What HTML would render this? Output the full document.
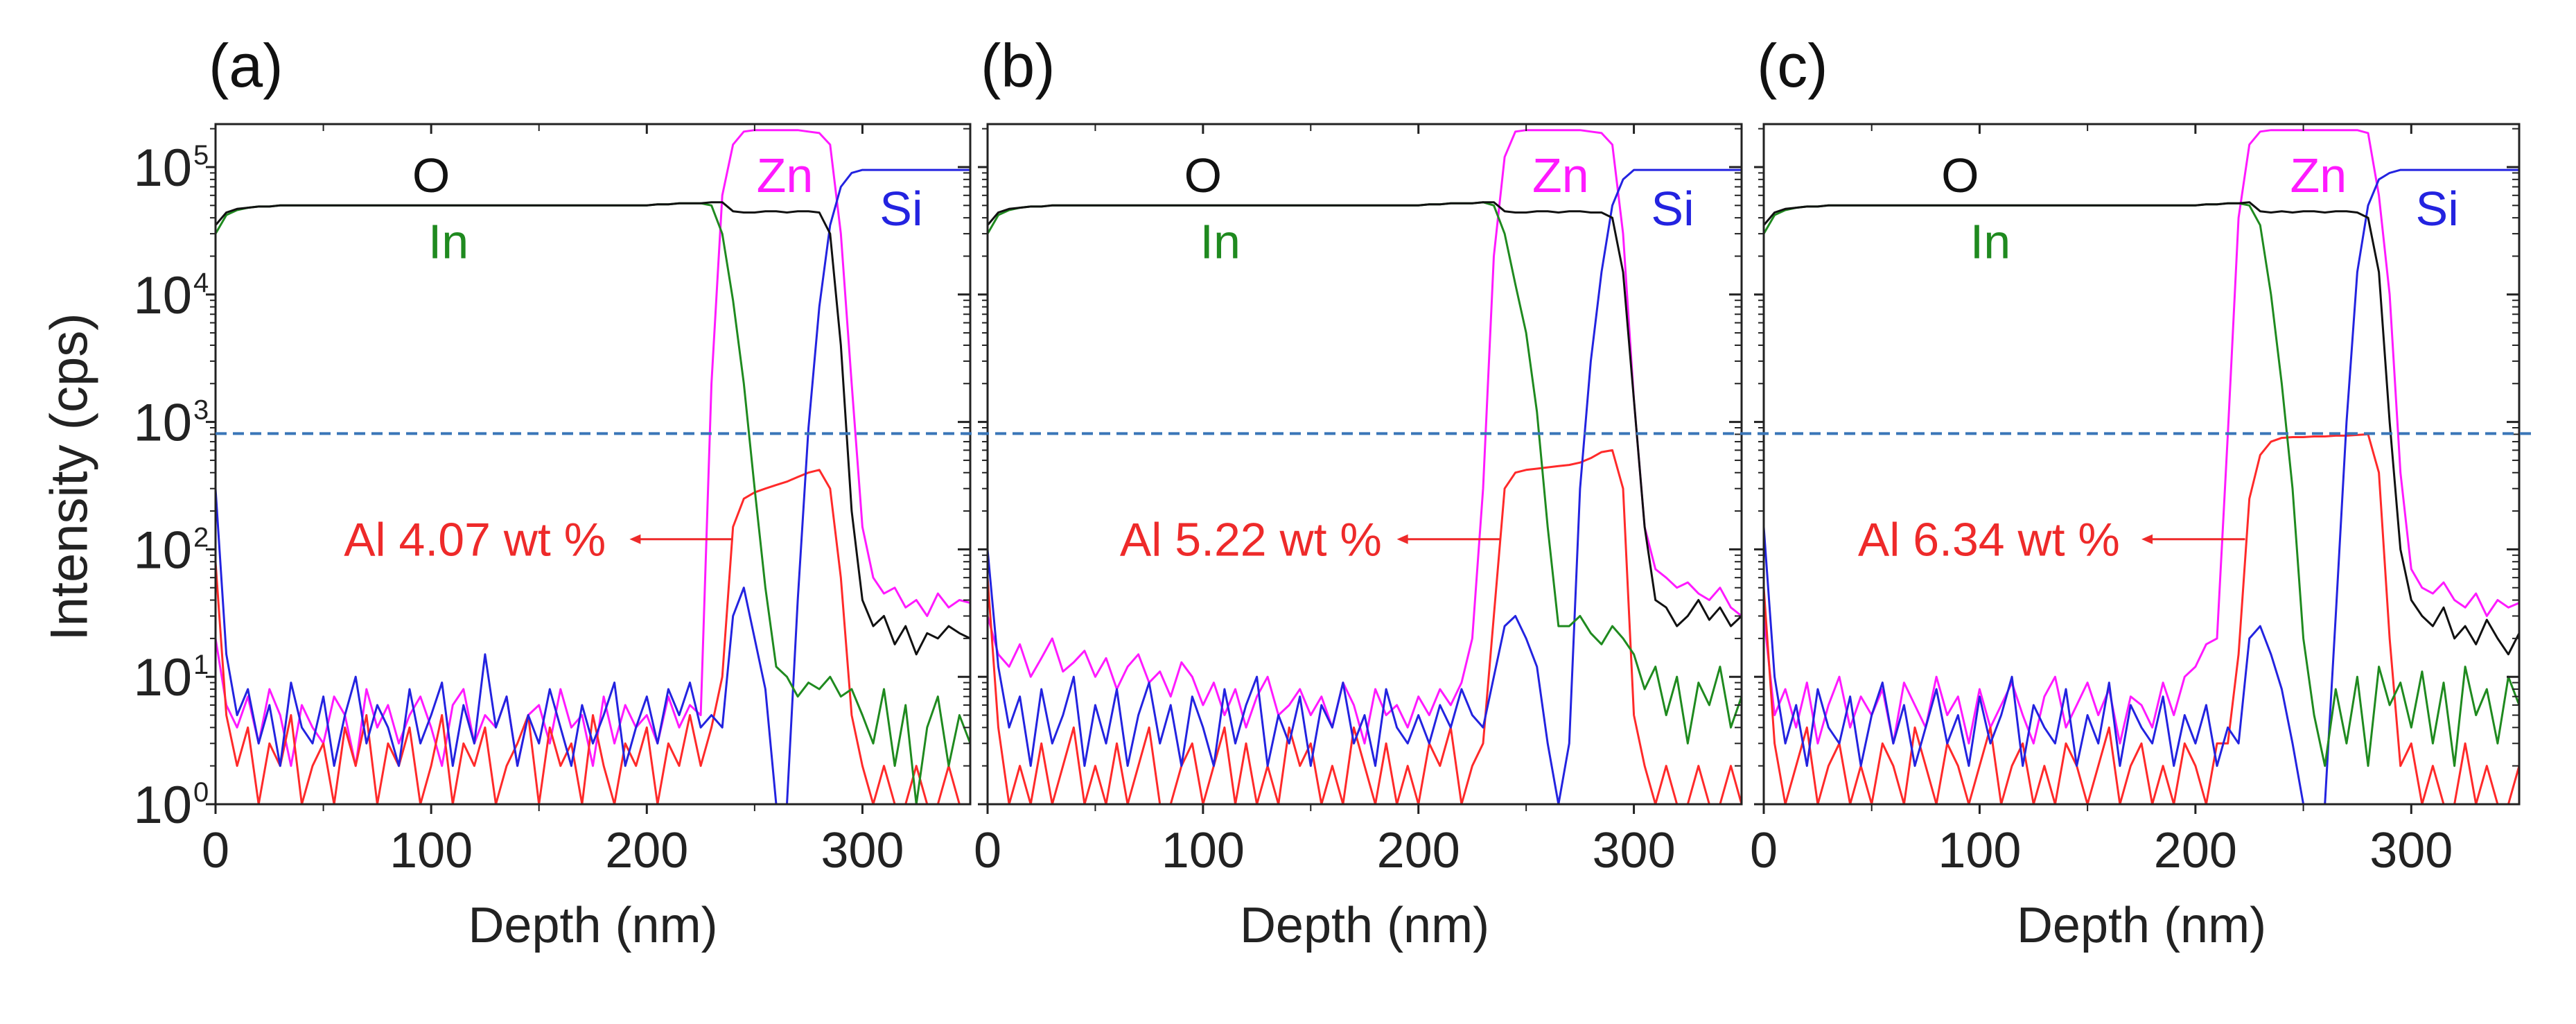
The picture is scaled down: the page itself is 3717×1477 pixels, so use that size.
<!DOCTYPE html>
<html><head><meta charset="utf-8"><style>
html,body{margin:0;padding:0;background:#fff}
svg{display:block}
text{font-family:"Liberation Sans",Arial,sans-serif}
</style></head><body>
<svg id="fig" xmlns="http://www.w3.org/2000/svg" width="3717" height="1477" viewBox="0 0 3717 1477">
<rect x="0" y="0" width="3717" height="1477" fill="#fff"/>
<g id="root"></g>
</svg>
<script>
// depth grid: 0..350 nm step 5
const depthStep = 5;
const xTicks = [0, 100, 200, 300];
const xMinorTicks = [50, 150, 250];
const yDecades = [0, 1, 2, 3, 4, 5];
const thresholdValue = 810;

const aO = [35000,44000,47000,48000,49000,49000,50000,50000,50000,50000,
50000,50000,50000,50000,50000,50000,50000,50000,50000,50000,
50000,50000,50000,50000,50000,50000,50000,50000,50000,50000,
50000,50000,50000,50000,50000,50000,50000,50000,50000,50000,
50000,51000,51000,52000,52000,52000,53000,53000,45000,44000,
44000,45000,45000,44000,45000,45000,44000,30000,4000,200,
40,25,30,18,25,15,22,20,25,22,20];
const aIn = [30000,42000,46000,48000,49000,49000,50000,50000,50000,50000,
50000,50000,50000,50000,50000,50000,50000,50000,50000,50000,
50000,50000,50000,50000,50000,50000,50000,50000,50000,50000,
50000,50000,50000,50000,50000,50000,50000,50000,50000,50000,
50000,51000,51000,52000,52000,52000,50000,30000,9000,2000,
300,50,12,10,7,9,8,10,7,8,
5,3,8,2,6,1,4,7,2,5,3];
const aZn = [20,6,4,7,3,8,5,2,6,4,
3,7,5,2,8,4,6,3,5,7,
4,2,6,8,3,5,4,7,2,5,
6,3,8,4,5,2,7,3,6,4,
5,3,7,4,6,5,2000,60000,150000,190000,
195000,195000,195000,195000,195000,190000,185000,150000,30000,2000,
150,60,45,50,35,40,30,45,35,40,38];
const aSi = [300,15,5,8,3,6,2,9,4,3,
7,2,5,10,3,6,4,2,8,3,
5,9,2,6,3,15,4,7,2,5,
3,8,4,2,6,3,5,9,2,4,
7,3,8,5,9,4,5,4,30,50,
20,8,1,1,40,900,8000,35000,70000,90000,
95000,95000,95000,95000,95000,95000,95000,95000,95000,95000,95000];
const aAl = [80,5,2,4,1,3,2,5,1,2,
3,1,4,2,5,1,3,2,4,1,
2,5,1,3,2,4,1,2,3,5,
1,4,2,3,1,5,2,1,3,2,
4,1,3,2,5,2,4,10,150,250,
280,300,320,340,370,400,420,300,60,5,
2,1,2,1,1,2,1,1,2,1,1];

const bO = [35000,44000,47000,48000,49000,49000,50000,50000,50000,50000,
50000,50000,50000,50000,50000,50000,50000,50000,50000,50000,
50000,50000,50000,50000,50000,50000,50000,50000,50000,50000,
50000,50000,50000,50000,50000,50000,50000,50000,50000,50000,
50000,51000,51000,52000,52000,52000,53000,53000,45000,44000,
44000,45000,45000,44000,45000,45000,44000,44000,40000,15000,
1500,150,40,35,25,30,40,28,35,25,30];
const bIn = [30000,42000,46000,48000,49000,49000,50000,50000,50000,50000,
50000,50000,50000,50000,50000,50000,50000,50000,50000,50000,
50000,50000,50000,50000,50000,50000,50000,50000,50000,50000,
50000,50000,50000,50000,50000,50000,50000,50000,50000,50000,
50000,51000,51000,52000,52000,52000,53000,50000,30000,12000,
5000,1200,150,25,25,30,22,18,25,20,
15,8,12,5,10,3,9,6,12,4,7];
const bZn = [30,15,12,18,10,14,20,11,13,16,
10,14,8,12,15,9,11,7,13,10,
6,9,5,8,4,7,10,5,6,8,
5,7,4,9,6,3,8,5,6,4,
7,5,8,6,9,20,300,20000,120000,190000,
195000,195000,195000,195000,195000,195000,190000,185000,150000,30000,
1500,150,70,60,50,55,45,40,50,35,30];
const bSi = [100,12,4,7,2,8,3,5,10,2,
6,3,8,2,5,9,3,6,2,7,
4,2,8,3,6,10,2,5,3,7,
2,6,4,9,3,5,2,8,4,3,
5,3,6,4,8,5,4,10,25,30,
20,12,3,1,3,300,3000,15000,50000,80000,
95000,95000,95000,95000,95000,95000,95000,95000,95000,95000,95000];
const bAl = [60,4,1,2,1,3,1,2,4,1,
2,1,3,1,2,4,1,1,2,3,
1,2,4,1,3,1,2,1,4,2,
3,1,2,1,4,2,1,3,1,2,
1,3,2,4,1,2,3,30,300,400,
420,430,440,450,460,480,520,580,600,300,
5,2,1,2,1,1,2,1,1,2,1];

const cO = [35000,44000,47000,48000,49000,49000,50000,50000,50000,50000,
50000,50000,50000,50000,50000,50000,50000,50000,50000,50000,
50000,50000,50000,50000,50000,50000,50000,50000,50000,50000,
50000,50000,50000,50000,50000,50000,50000,50000,50000,50000,
50000,51000,51000,52000,52000,53000,45000,44000,45000,44000,
45000,45000,44000,45000,45000,44000,40000,15000,1000,100,
40,30,25,35,20,25,18,28,20,15,22];
const cIn = [30000,42000,46000,48000,49000,49000,50000,50000,50000,50000,
50000,50000,50000,50000,50000,50000,50000,50000,50000,50000,
50000,50000,50000,50000,50000,50000,50000,50000,50000,50000,
50000,50000,50000,50000,50000,50000,50000,50000,50000,50000,
50000,51000,51000,52000,52000,50000,35000,10000,2000,300,
20,5,2,8,3,10,2,12,6,9,
4,11,3,9,2,12,5,8,3,10,6];
const cZn = [30,5,8,4,9,3,6,10,4,7,
5,8,3,9,6,4,10,5,7,3,
8,4,6,9,5,3,7,10,4,6,
9,5,8,3,7,6,4,9,5,10,
12,18,20,800,40000,150000,190000,195000,195000,195000,
195000,195000,195000,195000,195000,195000,185000,60000,10000,400,
70,50,45,55,40,35,45,30,40,35,38];
const cSi = [150,10,3,6,2,8,4,3,7,2,
5,9,3,6,2,4,8,3,5,2,
7,3,5,10,2,6,4,3,8,2,
5,3,9,2,6,4,3,7,2,5,
3,6,2,4,3,20,25,15,8,3,
1,1,1,30,1000,15000,50000,80000,90000,95000,
95000,95000,95000,95000,95000,95000,95000,95000,95000,95000,95000];
const cAl = [50,3,1,2,4,1,2,3,1,2,
1,3,2,1,4,2,1,3,2,1,
2,4,1,2,3,1,2,1,3,2,
1,2,4,1,2,3,1,2,1,3,
2,1,3,3,15,250,550,700,750,760,
760,770,770,780,780,790,800,400,20,2,
3,1,2,1,1,3,1,2,1,1,2];

const panelLetters = ["(a)", "(b)", "(c)"];
const alLabels = ["Al 4.07 wt %", "Al 5.22 wt %", "Al 6.34 wt %"];
const alLabelEnd = [181, 183, 165];
const alArrowFrom = [240, 238, 223];
const alArrowTo = [192, 190, 175];

const panels = [
  {id:"a", left:311, right:1400, s:{O:aO, In:aIn, Zn:aZn, Si:aSi, Al:aAl}},
  {id:"b", left:1425, right:2513, s:{O:bO, In:bIn, Zn:bZn, Si:bSi, Al:bAl}},
  {id:"c", left:2545, right:3635, s:{O:cO, In:cIn, Zn:cZn, Si:cSi, Al:cAl}}
];
const TOP = 179, Y5 = 241, DEC = 183.8, BOTTOM = 1160, XMAX = 350;
const colors = {O:"#111", In:"#1f8a1f", Zn:"#ff1aff", Si:"#2323e0", Al:"#ff2a2a"};
const drawOrder = ["Zn","Al","Si","In","O"];
const NS = "http://www.w3.org/2000/svg";
const root = document.getElementById("root");

function el(tag, attrs, parent){ const e=document.createElementNS(NS,tag); for(const k in attrs) e.setAttribute(k,attrs[k]); (parent||root).appendChild(e); return e; }
function yOf(v){ return Y5 + (5 - Math.log10(Math.max(v,1))) * DEC; }

panels.forEach((p, pi) => {
  const W = p.right - p.left;
  const xOf = d => p.left + d / XMAX * W;
  const g = el("g", {});
  
  

  const cp = el("clipPath", {id:"clip"+p.id}, g);
  el("rect", {x:p.left, y:TOP, width:W, height:BOTTOM-TOP}, cp);

  const sg = el("g", {"clip-path":"url(#clip"+p.id+")"}, g);
  drawOrder.forEach(k => {
    const arr = p.s[k];
    const pts = arr.map((v,i) => xOf(i*depthStep).toFixed(1)+","+yOf(v).toFixed(1)).join(" ");
    const pl = el("polyline", {points:pts, fill:"none", stroke:colors[k], "stroke-width":3, "stroke-linejoin":"round"}, sg);
    
    
  });

  // frame
  const fr = el("rect", {x:p.left, y:TOP, width:W, height:BOTTOM-TOP, fill:"none", stroke:"#222", "stroke-width":3}, g);
  
  

  // y ticks
  yDecades.forEach(k => {
    const y = yOf(Math.pow(10,k));
    el("line", {x1:p.left-14, x2:p.left, y1:y, y2:y, stroke:"#222","stroke-width":3}, g);
    el("line", {x1:p.right-18, x2:p.right, y1:y, y2:y, stroke:"#222","stroke-width":3}, g);
    for (let m=2; m<=9; m++){
      const v = m*Math.pow(10,k), yy = yOf(v);
      if (yy < TOP) continue;
      el("line", {x1:p.left-8, x2:p.left, y1:yy, y2:yy, stroke:"#222","stroke-width":2}, g);
      el("line", {x1:p.right-10, x2:p.right, y1:yy, y2:yy, stroke:"#222","stroke-width":2}, g);
    }
    if (pi === 0){
      const t = el("text", {x:277, y:y+27, "text-anchor":"end", "font-size":76, fill:"#222"}, g);
      t.textContent = "10";
      
      
      const s = el("text", {x:279, y:y-4, "font-size":40, fill:"#222"}, g);
      s.textContent = String(k);
      
      
    }
  });
  // x ticks
  xTicks.forEach(d => {
    const x = xOf(d);
    el("line", {x1:x, x2:x, y1:BOTTOM, y2:BOTTOM+14, stroke:"#222","stroke-width":3}, g);
    el("line", {x1:x, x2:x, y1:TOP, y2:TOP+14, stroke:"#222","stroke-width":3}, g);
    const t = el("text", {x:x, y:1251, "text-anchor":"middle", "font-size":72, fill:"#222"}, g);
    t.textContent = String(d);
    
    
  });
  xMinorTicks.forEach(d => {
    const x = xOf(d);
    el("line", {x1:x, x2:x, y1:BOTTOM, y2:BOTTOM+10, stroke:"#222","stroke-width":2}, g);
    el("line", {x1:x, x2:x, y1:TOP, y2:TOP+10, stroke:"#222","stroke-width":2}, g);
  });
  const xl = el("text", {x:(p.left+p.right)/2, y:1359, "text-anchor":"middle", "font-size":72, fill:"#222"}, g);
  xl.textContent = "Depth (nm)";
  
  

  const pl = el("text", {x:p.left-10, y:125, "font-size":88, fill:"#111"}, g);
  pl.textContent = panelLetters[pi];
  
  

  // element labels
  const lab = (txt, d, lg, col, name) => {
    const t = el("text", {x:xOf(d), y:Y5 + (5-lg)*DEC + 25, "text-anchor":"middle", "font-size":70, fill:col}, g);
    t.textContent = txt;
    
    
  };
  lab("O", pi===2?91:100, 4.94, "#111", "label-o");
  lab("In", pi===2?105:108, 4.42, colors.In, "label-in");
  lab("Zn", pi===2?257:(pi===1?266:264), 4.94, "#ff1aff", "label-zn");
  lab("Si", pi===2?312:318, 4.68, colors.Si, "label-si");

  const ay = Y5 + (5-2.08)*DEC;
  const at = el("text", {x:xOf(alLabelEnd[pi]), y:ay+24, "text-anchor":"end", "font-size":68, fill:"#ee2a2a"}, g);
  at.textContent = alLabels[pi];
  
  
  const ax1 = xOf(alArrowFrom[pi]), ax2 = xOf(alArrowTo[pi]);
  const ar = el("line", {x1:ax1, x2:ax2+10, y1:ay, y2:ay, stroke:"#ee2a2a","stroke-width":3}, g);
  
  
  el("polygon", {points:`${ax2},${ay} ${ax2+16},${ay-7} ${ax2+16},${ay+7}`, fill:"#ee2a2a"}, g);
});

// threshold dashed line across all panels
const ty = yOf(thresholdValue);
const dl = el("line", {x1:311, x2:3655, y1:ty, y2:ty, stroke:"#3a76b8", "stroke-width":4, "stroke-dasharray":"16 9"});



const yl = el("text", {x:0, y:0, transform:"translate(100,688) rotate(-90)", "text-anchor":"middle", "dominant-baseline":"central", "font-size":76, fill:"#222"});
yl.textContent = "Intensity (cps)";


</script>
</body></html>
